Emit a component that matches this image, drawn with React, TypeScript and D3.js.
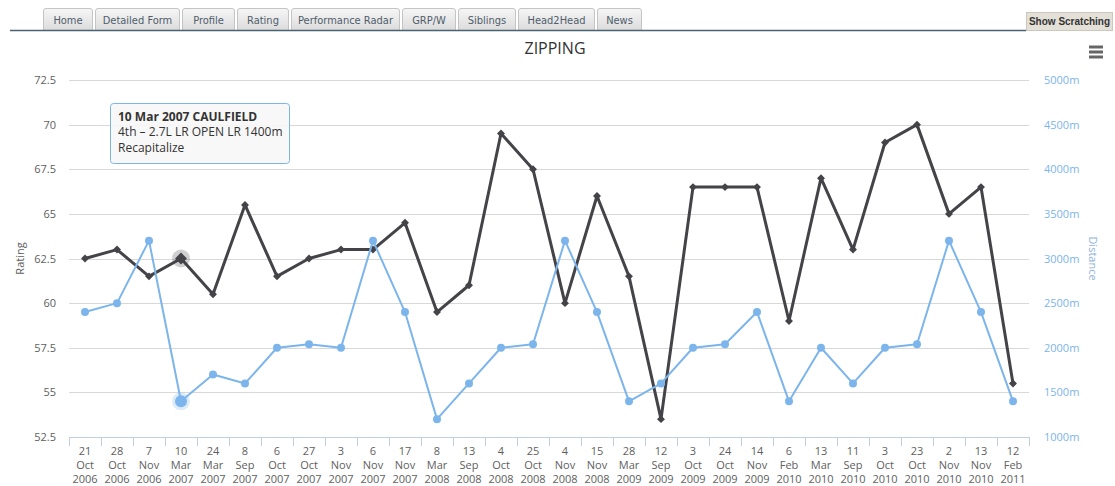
import React from "react";
import * as d3 from "d3";

// race dates (tick labels)
const days = ["21", "28", "7", "10", "24", "8", "6", "27", "3", "6", "17", "8", "13", "4", "25", "4", "15", "28", "12", "3", "24", "14", "6", "13", "11", "3", "23", "2", "13", "12"];
const months = ["Oct", "Oct", "Nov", "Mar", "Mar", "Sep", "Oct", "Oct", "Nov", "Nov", "Nov", "Mar", "Sep", "Oct", "Oct", "Nov", "Nov", "Mar", "Sep", "Oct", "Oct", "Nov", "Feb", "Mar", "Sep", "Oct", "Oct", "Nov", "Nov", "Feb"];
const years = ["2006", "2006", "2006", "2007", "2007", "2007", "2007", "2007", "2007", "2007", "2007", "2008", "2008", "2008", "2008", "2008", "2008", "2009", "2009", "2009", "2009", "2009", "2010", "2010", "2010", "2010", "2010", "2010", "2010", "2011"];

const rating = [62.5, 63, 61.5, 62.5, 60.5, 65.5, 61.5, 62.5, 63, 63, 64.5, 59.5, 61, 69.5, 67.5, 60, 66, 61.5, 53.5, 66.5, 66.5, 66.5, 59, 67, 63, 69, 70, 65, 66.5, 55.5];
const distance = [2400, 2500, 3200, 1400, 1700, 1600, 2000, 2040, 2000, 3200, 2400, 1200, 1600, 2000, 2040, 3200, 2400, 1400, 1600, 2000, 2040, 2400, 1400, 2000, 1600, 2000, 2040, 3200, 2400, 1400];

const ratingTicks = [52.5, 55, 57.5, 60, 62.5, 65, 67.5, 70, 72.5];
const distanceTicks = [1000, 1500, 2000, 2500, 3000, 3500, 4000, 4500, 5000];

const tabs = ["Home", "Detailed Form", "Profile", "Rating", "Performance Radar", "GRP/W", "Siblings", "Head2Head", "News"];
const tabWidths = [50, 85, 53, 52, 109, 54, 58, 77, 45];

const tooltipLines = ["10 Mar 2007 CAULFIELD", "4th \u2013 2.7L LR OPEN LR 1400m", "Recapitalize"];
const hoverIndex = 3;

const font = "'Open Sans', 'Liberation Sans', Arial, sans-serif";

export default function App() {
  const W = 1115, H = 486;
  const plot = { left: 69, right: 1029, top: 80, bottom: 437 };

  const idx = d3.range(days.length);
  const x = d3.scaleBand<number>().domain(idx).range([plot.left, plot.right]);
  const cx = (i: number) => (x(i) as number) + x.bandwidth() / 2;
  const yL = d3.scaleLinear().domain([52.5, 72.5]).range([plot.bottom, plot.top]);
  const yR = d3.scaleLinear().domain([1000, 5000]).range([plot.bottom, plot.top]);

  const ratingLine = d3.line<number>().x((d, i) => cx(i)).y(d => yL(d));
  const distLine = d3.line<number>().x((d, i) => cx(i)).y(d => yR(d));
  const diamond = d3.symbol().type(d3.symbolDiamond2).size(40);

  // tab x positions
  let tx = 43;
  const tabPos = tabWidths.map(w => { const p = tx; tx += w + 2; return p; });

  return (
    <div style={{ position: "absolute", left: 0, top: 0 }}>
      <svg width={W} height={H} style={{ display: "block", background: "#fff" }}>
        <defs>
          <linearGradient id="tabGrad" x1="0" y1="0" x2="0" y2="1">
            <stop offset="0%" stopColor="#f6f6f6" />
            <stop offset="100%" stopColor="#dcdcdc" />
          </linearGradient>
        </defs>

        {/* tabs */}
        <g fontFamily="Tahoma, 'DejaVu Sans Condensed', 'Liberation Sans', sans-serif" fontSize={11}>
          {tabs.map((t, i) => (
            <g key={t} transform={`translate(${tabPos[i]},8)`}>
              <path d={`M0.5,22 V3 Q0.5,0.5 3,0.5 H${tabWidths[i] - 3} Q${tabWidths[i] - 0.5},0.5 ${tabWidths[i] - 0.5},3 V22`} fill="url(#tabGrad)" stroke="#c4c4c4" />
              <text x={tabWidths[i] / 2} y={16} textAnchor="middle" fill="#4f5d6b">{t}</text>
            </g>
          ))}
          <line x1={10} x2={1026} y1={30.5} y2={30.5} stroke="#4a6373" strokeWidth={1.5} />
          <rect x={1026.5} y={12.5} width={86} height={18} fill="#e3e0d8" stroke="#cbc7bc" />
          <text x={1069.5} y={25} textAnchor="middle" fontFamily="'Liberation Sans', Arial, sans-serif" fontSize={10} fontWeight="bold" fill="#333">Show Scratching</text>
        </g>

        <g fontFamily={font}>
          {/* title */}
          <text x={555} y={54} textAnchor="middle" fontSize={16} fill="#333">ZIPPING</text>

          {/* menu icon */}
          {[0, 5, 10].map(d => (
            <line key={d} x1={1089} x2={1103} y1={47 + d} y2={47 + d} stroke="#666" strokeWidth={3} />
          ))}

          {/* grid */}
          {ratingTicks.map(t => (
            <line key={t} x1={plot.left} x2={plot.right} y1={Math.round(yL(t)) + 0.5} y2={Math.round(yL(t)) + 0.5} stroke="#d8d8d8" />
          ))}

          {/* left axis labels */}
          {ratingTicks.map(t => (
            <text key={t} x={56} y={yL(t) + 4} textAnchor="end" fontSize={11} fill="#606060">{t}</text>
          ))}
          <text transform={`translate(24,${(plot.top + plot.bottom) / 2}) rotate(-90)`} textAnchor="middle" fontSize={11} fill="#606060">Rating</text>

          {/* right axis labels */}
          {distanceTicks.map(t => (
            <text key={t} x={1044} y={yR(t) + 4} textAnchor="start" fontSize={11} fill="#7cb5ec">{t}m</text>
          ))}
          <text transform={`translate(1089,${(plot.top + plot.bottom) / 2}) rotate(90)`} textAnchor="middle" fontSize={11} fill="#8fb3dc">Distance</text>

          {/* x axis */}
          <line x1={plot.left} x2={plot.right} y1={plot.bottom + 0.5} y2={plot.bottom + 0.5} stroke="#c0d0e0" />
          {idx.concat([idx.length]).map(i => {
            const px = Math.round(i < idx.length ? (x(i) as number) : plot.right) + 0.5;
            return <line key={i} x1={px} x2={px} y1={plot.bottom} y2={plot.bottom + 9} stroke="#c0d0e0" />;
          })}
          {idx.map(i => (
            <text key={i} x={cx(i)} textAnchor="middle" fontSize={11} fill="#606060">
              <tspan x={cx(i)} y={455}>{days[i]}</tspan>
              <tspan x={cx(i)} y={469}>{months[i]}</tspan>
              <tspan x={cx(i)} y={483}>{years[i]}</tspan>
            </text>
          ))}

          {/* hover halos */}
          <circle cx={cx(hoverIndex)} cy={yL(rating[hoverIndex])} r={9} fill="#434348" fillOpacity={0.25} />
          <circle cx={cx(hoverIndex)} cy={yR(distance[hoverIndex])} r={9} fill="#7cb5ec" fillOpacity={0.25} />

          {/* rating series */}
          <path d={ratingLine(rating) as string} fill="none" stroke="#434348" strokeWidth={3} strokeLinejoin="round" />
          {rating.map((v, i) => (
            <path key={i} d={diamond() as string} transform={`translate(${cx(i)},${yL(v)})${i === hoverIndex ? " scale(1.5)" : ""}`} fill="#434348" />
          ))}

          {/* distance series */}
          <path d={distLine(distance) as string} fill="none" stroke="#7cb5ec" strokeWidth={2} strokeLinejoin="round" />
          {distance.map((v, i) => (
            <circle key={i} cx={cx(i)} cy={yR(v)} r={i === hoverIndex ? 6 : 4} fill="#7cb5ec" />
          ))}

          {/* tooltip */}
          <rect x={110.5} y={103.5} width={179} height={60} rx={3} fill="#f7f7f7" fillOpacity={0.9} stroke="#7cb5ec" />
          <text x={118} y={121} fontSize={12} fontWeight="bold" fill="#333">{tooltipLines[0]}</text>
          <text x={118} y={136} fontSize={12} fill="#333">{tooltipLines[1]}</text>
          <text x={118} y={152} fontSize={12} fill="#333">{tooltipLines[2]}</text>
        </g>
      </svg>
    </div>
  );
}
